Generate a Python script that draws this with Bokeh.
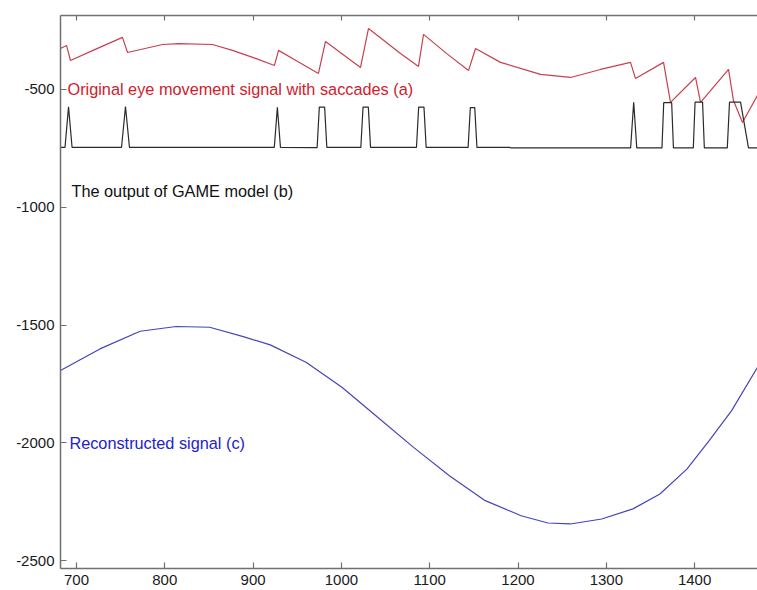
from bokeh.plotting import figure
from bokeh.models import LinearAxis, FixedTicker, Range1d
from bokeh.core.properties import value
from bokeh.embed import file_html
from bokeh.resources import INLINE

# ---- data ----
x_ticks = [700, 800, 900, 1000, 1100, 1200, 1300, 1400]
x_tick_labels = ["700", "800", "900", "1000", "1100", "1200", "1300", "1400"]
y_ticks = [-2500, -2000, -1500, -1000, -500]
y_tick_labels = ["-2500", "-2000", "-1500", "-1000", "-500"]

# (a) original eye movement signal with saccades
orig_x = [681.9, 688.7, 693.2, 720, 752.1, 757.8, 797.4, 815.5, 854, 876.7, 902.7,
          924.2, 928.8, 950, 974, 982, 1021.6, 1030.7, 1066.9, 1087.3, 1093,
          1120, 1144, 1151.9, 1180.2, 1225.5, 1259.5, 1293.4, 1327.4, 1333,
          1364.8, 1372.7, 1401, 1406.7, 1438.4, 1444, 1454.2, 1471.2]
orig_y = [-326, -313, -377, -332, -279, -343, -309, -305, -309, -334, -368,
          -398, -334, -380, -432, -296, -407, -241, -347, -402, -266,
          -350, -419, -326, -385, -436, -449, -415, -385, -453,
          -385, -555, -449, -555, -415, -547, -640, -525]

# (b) output of GAME model (saccade detector)
game_x = [681.9, 687, 691, 695, 751, 755.5, 760, 924, 927.5, 931,
          972.5, 975, 981, 983.5, 1022, 1024.5, 1030.5, 1033,
          1085, 1087.5, 1093.5, 1096, 1143.5, 1146, 1151, 1153.5,
          1191, 1192, 1327.5, 1331, 1334.5, 1363, 1365, 1374, 1376,
          1398.5, 1400.5, 1409, 1411, 1437, 1439.5, 1452, 1461, 1471.2]
game_y = [-746, -746, -574, -746, -746, -572, -746, -746, -576, -746,
          -747, -575, -575, -746, -746, -575, -575, -746,
          -746, -575, -575, -746, -746, -577, -577, -746,
          -746, -748, -748, -554, -748, -748, -556, -556, -748,
          -748, -554, -554, -748, -748, -554, -554, -748, -748]

# (c) reconstructed signal
rec_x = [681.9, 726.5, 772.1, 812.8, 850.8, 888.9, 919.4, 959.9, 1000.6, 1041.1,
         1081.7, 1122.3, 1162.9, 1203.5, 1234, 1259.2, 1294.8, 1330.2, 1360.7,
         1391.2, 1416.5, 1441.9, 1471.2]
rec_y = [-1693, -1601, -1526, -1506, -1509, -1549, -1584, -1658, -1764, -1891,
         -2019, -2139, -2245, -2309, -2340, -2344, -2323, -2280, -2217,
         -2111, -1990, -1863, -1679]

labels = ["Original eye movement signal with saccades (a)",
          "The output of GAME model (b)",
          "Reconstructed signal (c)"]
label_x = [689.8, 694.3, 692.0]
label_y = [-500, -929, -2000]
label_colors = ["#d0202c", "#111111", "#2222cc"]

# ---- figure ----
p = figure(width=757, height=590, output_backend="svg", toolbar_location=None,
           x_range=Range1d(681.9, 1471.2), y_range=Range1d(-2533, -186),
           x_axis_location=None, y_axis_location=None,
           min_border_left=60, min_border_right=0, min_border_top=15,
           min_border_bottom=22)
p.outline_line_color = None
p.xgrid.visible = False
p.ygrid.visible = False
p.background_fill_color = "white"

axis_color = "#707070"
font = "Liberation Sans"

def style(ax):
    ax.axis_line_color = axis_color
    ax.axis_line_width = 1.5
    ax.major_tick_line_color = axis_color
    ax.major_tick_line_width = 1.2
    ax.major_tick_in = 6
    ax.major_tick_out = 0
    ax.minor_tick_line_color = None
    ax.major_label_text_font = font
    ax.major_label_text_font_size = "15px"
    ax.major_label_text_color = "#1a1a1a"

xb = LinearAxis(ticker=FixedTicker(ticks=x_ticks),
                major_label_overrides=dict(zip(x_ticks, x_tick_labels)))
style(xb)
xb.major_label_standoff = 6
p.add_layout(xb, "below")

xt = LinearAxis(ticker=FixedTicker(ticks=x_ticks),
                major_label_overrides={t: "" for t in x_ticks})
style(xt)
xt.major_tick_in = 5
xt.major_label_standoff = 0
p.add_layout(xt, "above")

yl = LinearAxis(ticker=FixedTicker(ticks=y_ticks),
                major_label_overrides=dict(zip(y_ticks, y_tick_labels)))
style(yl)
yl.major_label_standoff = 6
p.add_layout(yl, "left")

p.line(orig_x, orig_y, line_color="#c8404f", line_width=1.2)
p.line(game_x, game_y, line_color="#2a2a2a", line_width=1.2)
p.line(rec_x, rec_y, line_color="#4545b8", line_width=1.2)

for t, lx, ly, c in zip(labels, label_x, label_y, label_colors):
    p.text(x=[lx], y=[ly], text=[t], text_color=c, text_font=value(font),
           text_font_size="16.3px", text_baseline="middle", text_align="left")

open("out.html", "w").write(file_html(p, INLINE))
